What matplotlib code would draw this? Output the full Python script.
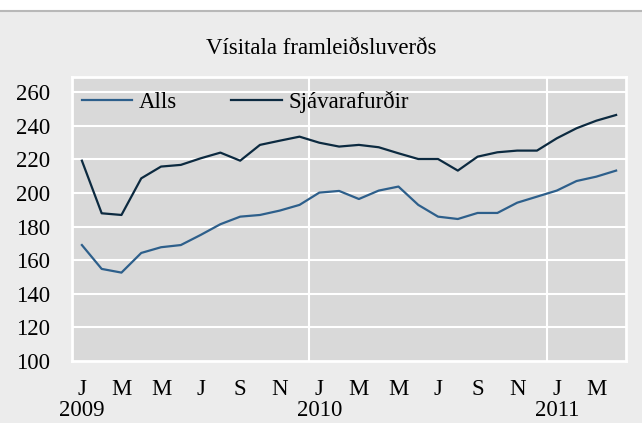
import matplotlib
matplotlib.use('Agg')
import matplotlib.pyplot as plt
from matplotlib.lines import Line2D

plt.rcParams['font.family'] = ['Liberation Serif', 'DejaVu Serif']

# monthly index, Jan 2009 - Apr 2011
alls = [169, 154.8, 152.6, 164.3, 167.7, 169, 175, 181.4, 185.9, 186.9, 189.5, 192.9,
        200.2, 201.2, 196.4, 201.4, 203.8, 192.9, 185.9, 184.5, 188.1, 188.1, 194.2, 197.8,
        201.4, 207.1, 209.7, 213.3]
sjavar = [219.2, 187.9, 186.9, 208.7, 215.7, 216.7, 220.6, 224, 219.2, 228.6, 231.1, 233.5,
          229.9, 227.6, 228.6, 227.2, 223.6, 220.2, 220.2, 213.3, 221.6, 224.2, 225.2, 225.2,
          232.5, 238.5, 243, 246.4]
month_labels = ['J', 'M', 'M', 'J', 'S', 'N', 'J', 'M', 'M', 'J', 'S', 'N', 'J', 'M']
years = ['2009', '2010', '2011']
yticks = [100, 120, 140, 160, 180, 200, 220, 240, 260]

bg = '#ececec'
panel = '#d9d9d9'
fs = 16.5

fig = plt.figure(figsize=(6.42, 4.23), dpi=100, facecolor=bg)
# white strip + gray rule at the very top
fig.patches.append(plt.Rectangle((0, 1 - 10/423), 1, 10/423, transform=fig.transFigure,
                                 facecolor='white', edgecolor='none', zorder=-1))
fig.add_artist(Line2D([0, 1], [1 - 11/423, 1 - 11/423], transform=fig.transFigure,
                      color='#b8b8b8', lw=1.5))

ax = fig.add_axes([72/642, (423-361)/423, (626-72)/642, (361-77)/423])
ax.set_facecolor(panel)

x = list(range(len(alls)))
ax.plot(x, alls, color='#2d5f8b', lw=1.6, label='Alls', zorder=3)
ax.plot(x, sjavar, color='#0c2a40', lw=1.6, label='Sjávarafurðir', zorder=3)

ax.set_xlim(-0.5, len(alls) - 0.5)
ax.set_ylim(100, 269)
ax.set_yticks(yticks)
ax.set_yticklabels([str(v) for v in yticks], fontsize=fs)
for v in yticks[1:]:
    ax.axhline(v, color='white', lw=1.5, zorder=1)
for xv in [11.5, 23.5]:
    ax.axvline(xv, color='white', lw=1.5, zorder=1)

ax.set_xticks([])
ax.tick_params(axis='y', length=0, pad=16)
for s in ax.spines.values():
    s.set_color('white')
    s.set_linewidth(2)

tr = ax.get_xaxis_transform()
for i, lab in enumerate(month_labels):
    ax.text(i * 2, -0.1, lab, transform=tr, ha='center', va='center', fontsize=fs)
for i, yr in enumerate(years):
    ax.text(i * 12, -0.176, yr, transform=tr, ha='center', va='center', fontsize=fs)

fig.text(0.5, 1 - 48/423, 'Vísitala framleiðsluverðs', ha='center', va='center', fontsize=fs)

ax.legend(loc='center left', bbox_to_anchor=(0.018, 0.912), ncol=2, frameon=False,
          fontsize=fs, handlelength=2.2, handletextpad=0.3, columnspacing=2.35,
          borderpad=0, borderaxespad=0)

fig.savefig('out.png', dpi=100, facecolor=bg)
